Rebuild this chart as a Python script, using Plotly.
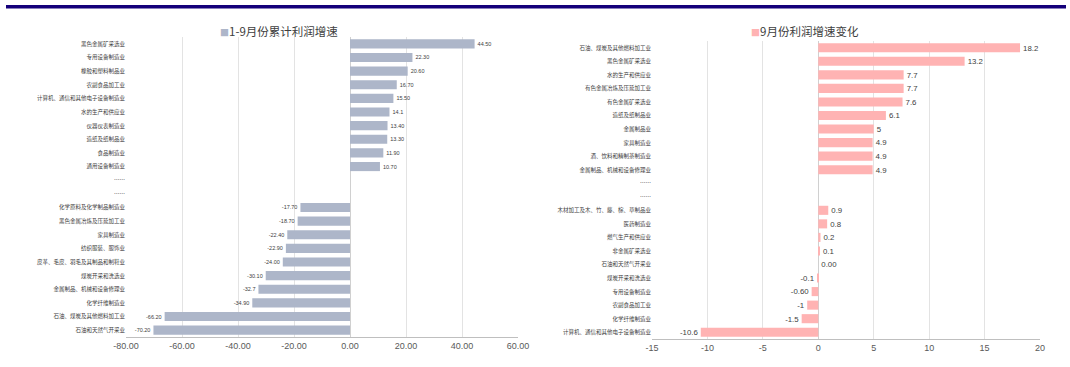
import plotly.graph_objects as go

W, H = 1070, 367

# Left chart: 1-9月份累计利润增速
left_cats = ["黑色金属矿采选业", "专用设备制造业", "橡胶和塑料制品业", "农副食品加工业",
             "计算机、通信和其他电子设备制造业", "水的生产和供应业", "仪器仪表制造业",
             "造纸及纸制品业", "食品制造业", "通用设备制造业", "……", "……",
             "化学原料及化学制品制造业", "黑色金属冶炼及压延加工业", "家具制造业",
             "纺织服装、服饰业", "皮革、毛皮、羽毛及其制品和制鞋业", "煤炭开采和洗选业",
             "金属制品、机械和设备修理业", "化学纤维制造业", "石油、煤炭及其他燃料加工业",
             "石油和天然气开采业"]
left_vals = [44.50, 22.30, 20.60, 16.70, 15.50, 14.1, 13.40, 13.30, 11.90, 10.70, None, None,
             -17.70, -18.70, -22.40, -22.90, -24.00, -30.10, -32.7, -34.90, -66.20, -70.20]
left_labels = ["44.50", "22.30", "20.60", "16.70", "15.50", "14.1", "13.40", "13.30", "11.90",
               "10.70", "", "", "-17.70", "-18.70", "-22.40", "-22.90", "-24.00", "-30.10",
               "-32.7", "-34.90", "-66.20", "-70.20"]

# Right chart: 9月份利润增速变化
right_cats = ["石油、煤炭及其他燃料加工业", "黑色金属矿采选业", "水的生产和供应业",
              "有色金属冶炼及压延加工业", "有色金属矿采选业", "造纸及纸制品业", "金属制品业",
              "家具制造业", "酒、饮料和精制茶制造业", "金属制品、机械和设备修理业", "……", "……",
              "木材加工及木、竹、藤、棕、草制品业", "医药制造业", "燃气生产和供应业",
              "非金属矿采选业", "石油和天然气开采业", "煤炭开采和洗选业", "专用设备制造业",
              "农副食品加工业", "化学纤维制造业", "计算机、通信和其他电子设备制造业"]
right_vals = [18.2, 13.2, 7.7, 7.7, 7.6, 6.1, 5, 4.9, 4.9, 4.9, None, None,
              0.9, 0.8, 0.2, 0.1, 0.00, -0.1, -0.60, -1, -1.5, -10.6]
right_labels = ["18.2", "13.2", "7.7", "7.7", "7.6", "6.1", "5", "4.9", "4.9", "4.9", "", "",
                "0.9", "0.8", "0.2", "0.1", "0.00", "-0.1", "-0.60", "-1", "-1.5", "-10.6"]

left_ticks = [-80, -60, -40, -20, 0, 20, 40, 60]
right_ticks = [-15, -10, -5, 0, 5, 10, 15, 20]

LEFT_COLOR = "#adb6c9"
RIGHT_COLOR = "#ffb3b3"
FONT = "Noto Sans CJK SC"

fig = go.Figure()
fig.add_trace(go.Bar(
    x=left_vals, y=list(range(len(left_cats))), orientation="h",
    marker=dict(color=LEFT_COLOR, line=dict(width=0)),
    text=left_labels, textposition="outside", cliponaxis=False,
    textfont=dict(size=5.5, color="#404040", family="Liberation Sans"),
    xaxis="x", yaxis="y", showlegend=False, hoverinfo="x+y"))
fig.add_trace(go.Bar(
    x=right_vals, y=list(range(len(right_cats))), orientation="h",
    marker=dict(color=RIGHT_COLOR, line=dict(width=0)),
    text=right_labels, textposition="outside", cliponaxis=False,
    textfont=dict(size=9.5, color="#404040", family="Liberation Sans"),
    xaxis="x2", yaxis="y2", showlegend=False, hoverinfo="x+y"))


def px_x(p):
    return p / W


def px_y(p):
    return 1 - p / H


grid = "#e3e3e3"
fig.update_layout(
    width=W, height=H, margin=dict(l=0, r=0, t=0, b=0, autoexpand=False),
    paper_bgcolor="white", plot_bgcolor="white",
    bargap=0.33,
    font=dict(family=FONT, color="#595959"),
    xaxis=dict(domain=[px_x(126), px_x(518)], range=[-80, 60], tickvals=left_ticks,
               ticktext=[f"{v:.2f}" for v in left_ticks],
               showgrid=True, gridcolor=grid, gridwidth=1,
               zeroline=True, zerolinecolor="#d0d0d0", zerolinewidth=1,
               showline=True, linecolor="#bfbfbf", linewidth=1, automargin=False,
               ticks="", tickfont=dict(size=9, color="#595959", family="Liberation Sans"),
               anchor="y"),
    yaxis=dict(domain=[px_y(337), px_y(37)], range=[len(left_cats) - 0.5, -0.5],
               tickvals=list(range(len(left_cats))), ticktext=left_cats, automargin=False,
               showgrid=False, zeroline=False, showline=False, ticks="",
               tickfont=dict(size=5.5, color="#404040", family=FONT), anchor="x"),
    xaxis2=dict(domain=[px_x(652), px_x(1040)], range=[-15, 20], tickvals=right_ticks,
                ticktext=[str(v) for v in right_ticks],
                showgrid=True, gridcolor=grid, gridwidth=1,
                zeroline=True, zerolinecolor="#d0d0d0", zerolinewidth=1,
                showline=True, linecolor="#bfbfbf", linewidth=1, automargin=False,
                ticks="", tickfont=dict(size=9, color="#595959", family="Liberation Sans"),
                anchor="y2"),
    yaxis2=dict(domain=[px_y(339), px_y(41)], range=[len(right_cats) - 0.5, -0.5],
                tickvals=list(range(len(right_cats))), ticktext=right_cats, automargin=False,
                showgrid=False, zeroline=False, showline=False, ticks="",
                tickfont=dict(size=5.5, color="#404040", family=FONT), anchor="x2"),
    shapes=[dict(type="rect", xref="paper", yref="paper", x0=px_x(6), x1=px_x(1066),
                 y0=px_y(8.5), y1=px_y(5), fillcolor="#14007a", line=dict(width=0))],
    annotations=[
        dict(xref="paper", yref="paper", x=px_x(218), y=px_y(31), xanchor="left", yanchor="middle",
             text=f"<span style='color:{LEFT_COLOR};font-size:9px'>■</span>1-9月份累计利润增速",
             showarrow=False, font=dict(size=11.5, color="#404040", family=FONT)),
        dict(xref="paper", yref="paper", x=px_x(749), y=px_y(31), xanchor="left", yanchor="middle",
             text=f"<span style='color:{RIGHT_COLOR};font-size:9px'>■</span>9月份利润增速变化",
             showarrow=False, font=dict(size=11.5, color="#404040", family=FONT)),
    ],
)

fig.write_html("out.html", config={"displayModeBar": False},
               post_script="document.body.style.margin='0';document.body.style.overflow='hidden';")
